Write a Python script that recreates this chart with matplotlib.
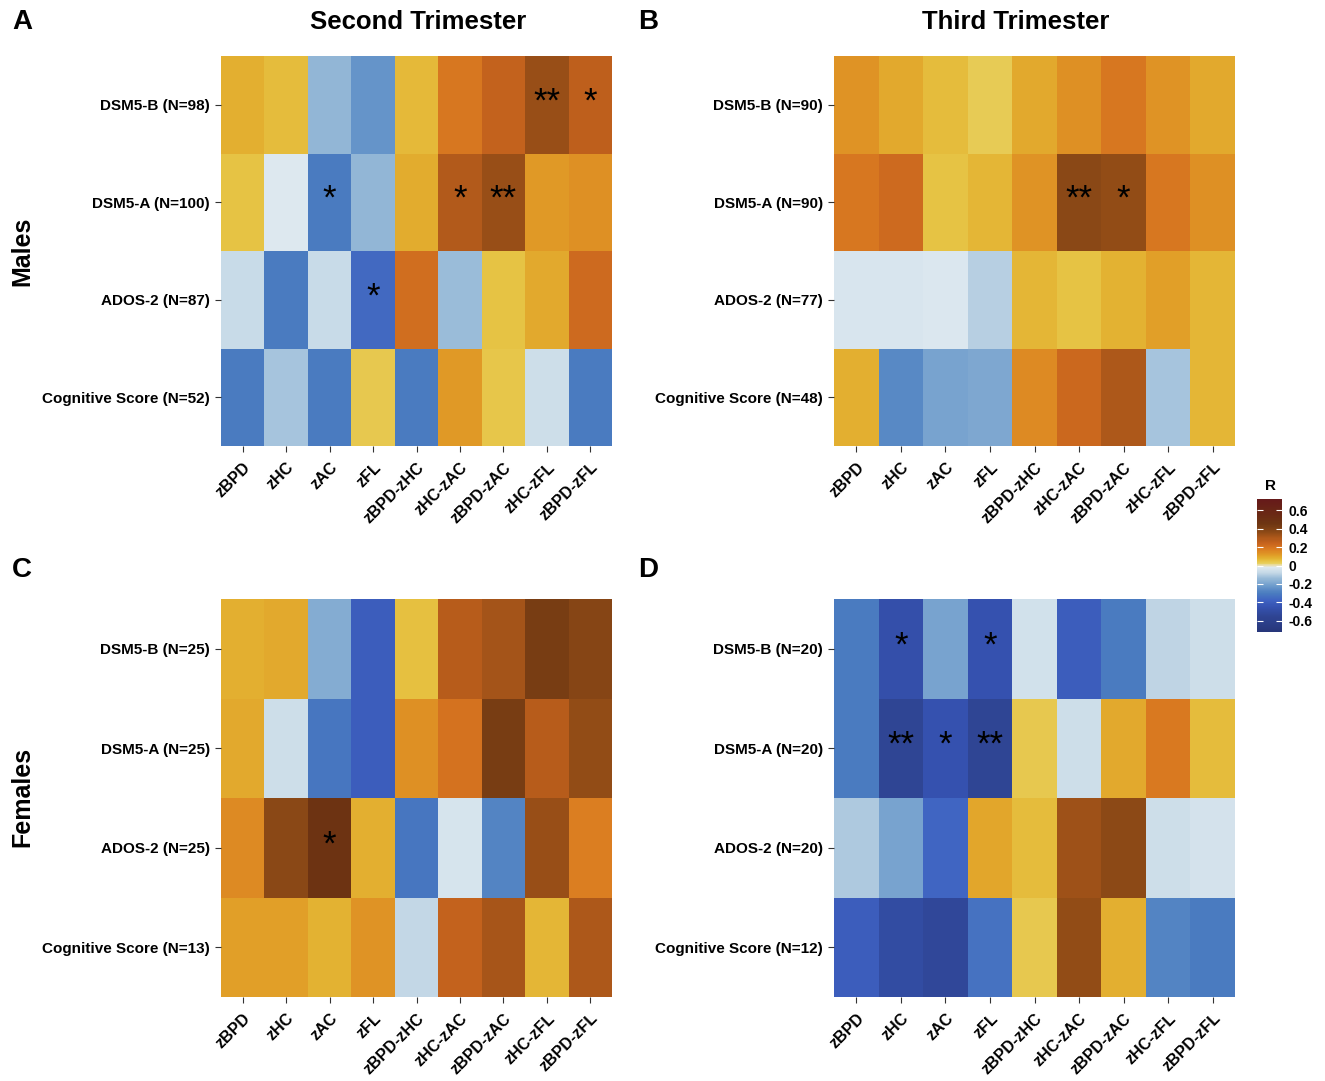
import numpy as np
import matplotlib
matplotlib.use('Agg')
import matplotlib.pyplot as plt
from matplotlib.colors import LinearSegmentedColormap, Normalize
from matplotlib.cm import ScalarMappable

plt.rcParams['font.family'] = ['Liberation Sans', 'DejaVu Sans']

# --- data ---
measures = ['zBPD', 'zHC', 'zAC', 'zFL', 'zBPD-zHC', 'zHC-zAC', 'zBPD-zAC', 'zHC-zFL', 'zBPD-zFL']
outcomes = ['DSM5-B', 'DSM5-A', 'ADOS-2', 'Cognitive Score']

n_male_2nd = [98, 100, 87, 52]
n_male_3rd = [90, 90, 77, 48]
n_female_2nd = [25, 25, 25, 13]
n_female_3rd = [20, 20, 20, 12]

r_male_2nd = [
    [0.08, 0.06, -0.15, -0.24, 0.065, 0.19, 0.25, 0.34, 0.26],
    [0.045, -0.02, -0.30, -0.15, 0.085, 0.29, 0.34, 0.12, 0.14],
    [-0.07, -0.30, -0.07, -0.36, 0.21, -0.14, 0.05, 0.09, 0.22],
    [-0.30, -0.12, -0.30, 0.035, -0.30, 0.12, 0.04, -0.06, -0.30],
]
r_male_3rd = [
    [0.13, 0.09, 0.06, 0.03, 0.09, 0.14, 0.19, 0.13, 0.09],
    [0.19, 0.22, 0.045, 0.07, 0.13, 0.37, 0.35, 0.19, 0.14],
    [-0.03, -0.03, -0.025, -0.10, 0.07, 0.05, 0.075, 0.11, 0.07],
    [0.08, -0.27, -0.20, -0.19, 0.15, 0.23, 0.30, -0.12, 0.07],
]
r_female_2nd = [
    [0.08, 0.09, -0.18, -0.40, 0.055, 0.28, 0.32, 0.42, 0.38],
    [0.09, -0.06, -0.32, -0.40, 0.14, 0.20, 0.42, 0.28, 0.35],
    [0.15, 0.37, 0.47, 0.08, -0.32, -0.035, -0.28, 0.34, 0.17],
    [0.11, 0.11, 0.075, 0.13, -0.08, 0.25, 0.31, 0.07, 0.30],
]
r_female_3rd = [
    [-0.30, -0.47, -0.20, -0.45, -0.05, -0.40, -0.30, -0.09, -0.06],
    [-0.30, -0.55, -0.45, -0.55, 0.035, -0.06, 0.09, 0.18, 0.06],
    [-0.11, -0.20, -0.37, 0.10, 0.06, 0.33, 0.36, -0.06, -0.04],
    [-0.40, -0.50, -0.53, -0.33, 0.035, 0.35, 0.08, -0.28, -0.30],
]

# significance marks (row, col, label)
sig_male_2nd = [(0, 7, '**'), (0, 8, '*'), (1, 2, '*'), (1, 5, '*'), (1, 6, '**'), (2, 3, '*')]
sig_male_3rd = [(1, 5, '**'), (1, 6, '*')]
sig_female_2nd = [(2, 2, '*')]
sig_female_3rd = [(0, 1, '*'), (0, 3, '*'), (1, 1, '**'), (1, 2, '*'), (1, 3, '**')]

# --- colour scale ---
VMIN, VMAX = -0.72, 0.72
anchors = [
    (-0.72, '#27367a'), (-0.55, '#2f4594'), (-0.45, '#3552b0'), (-0.38, '#3f62c2'),
    (-0.30, '#4a7cc0'), (-0.22, '#6e9ccc'), (-0.15, '#92b6d6'), (-0.08, '#c4d8e6'),
    (-0.02, '#dde8f0'), (0.0, '#e8e2c0'), (0.02, '#e8d060'), (0.05, '#e6c242'),
    (0.08, '#e3b030'), (0.12, '#e09a26'), (0.18, '#da7a20'), (0.24, '#c8641e'),
    (0.30, '#ae581a'), (0.36, '#8e4a16'), (0.45, '#6e3612'), (0.55, '#6a2a14'),
    (0.72, '#661a1a'),
]
cmap = LinearSegmentedColormap.from_list(
    'r_div', [((v - VMIN) / (VMAX - VMIN), c) for v, c in anchors])
norm = Normalize(VMIN, VMAX)

fig = plt.figure(figsize=(13.25, 10.81), dpi=100)
W, H = 1325, 1081

def box(x0, y0, x1, y1):
    return [x0 / W, 1 - y1 / H, (x1 - x0) / W, (y1 - y0) / H]

panels = [
    (box(221, 56, 612, 446), r_male_2nd, n_male_2nd, sig_male_2nd),
    (box(834, 56, 1235, 446), r_male_3rd, n_male_3rd, sig_male_3rd),
    (box(221, 599, 612, 997), r_female_2nd, n_female_2nd, sig_female_2nd),
    (box(834, 599, 1235, 997), r_female_3rd, n_female_3rd, sig_female_3rd),
]

for rect, vals, ns, sigs in panels:
    ax = fig.add_axes(rect)
    ax.pcolormesh(np.array(vals), cmap=cmap, norm=norm)
    ax.set_xlim(0, len(measures))
    ax.set_ylim(len(outcomes), 0)
    ax.set_xticks(np.arange(len(measures)) + 0.5)
    ax.set_xticklabels(measures, rotation=45, ha='right', va='top',
                       rotation_mode='anchor', fontsize=11.5, fontweight='bold')
    ax.set_yticks(np.arange(len(outcomes)) + 0.5)
    ax.set_yticklabels([f'{o} (N={n})' for o, n in zip(outcomes, ns)],
                       fontsize=11, fontweight='bold')
    ax.tick_params(length=4, width=0.8, color='#333333', pad=4)
    ax.tick_params(axis='x', pad=6)
    for s in ax.spines.values():
        s.set_visible(False)
    for r, c, lab in sigs:
        ax.text(c + 0.5, r + 0.47, lab, ha='center', va='center', fontsize=25, color='black')

# titles and panel letters
fig.text(418 / W, 1 - 22 / H, 'Second Trimester', ha='center', va='center', fontsize=18.5, fontweight='bold')
fig.text(1016 / W, 1 - 22 / H, 'Third Trimester', ha='center', va='center', fontsize=18.5, fontweight='bold')
for lab, x, y in [('A', 22, 22), ('B', 648, 22), ('C', 22, 570), ('D', 648, 570)]:
    fig.text(x / W, 1 - y / H, lab, ha='center', va='center', fontsize=20, fontweight='bold')
fig.text(22 / W, 1 - 251 / H, 'Males', rotation=90, ha='center', va='center', fontsize=18, fontweight='bold')
fig.text(22 / W, 1 - 797 / H, 'Females', rotation=90, ha='center', va='center', fontsize=18, fontweight='bold')

# colour bar
cax = fig.add_axes(box(1257, 499, 1282, 632))
cb = fig.colorbar(ScalarMappable(norm=norm, cmap=cmap), cax=cax)
cb.set_ticks([0.6, 0.4, 0.2, 0, -0.2, -0.4, -0.6])
cb.set_ticklabels(['0.6', '0.4', '0.2', '0', '-0.2', '-0.4', '-0.6'])
cb.outline.set_visible(False)
cax.tick_params(direction='in', length=4, width=0.8, color='white', left=True, right=True,
                labelsize=10, pad=5)
for t in cax.get_yticklabels():
    t.set_fontweight('bold')
fig.text(1270 / W, 1 - 486 / H, 'R', ha='center', va='center', fontsize=11, fontweight='bold')

fig.savefig('out.png', dpi=100)
